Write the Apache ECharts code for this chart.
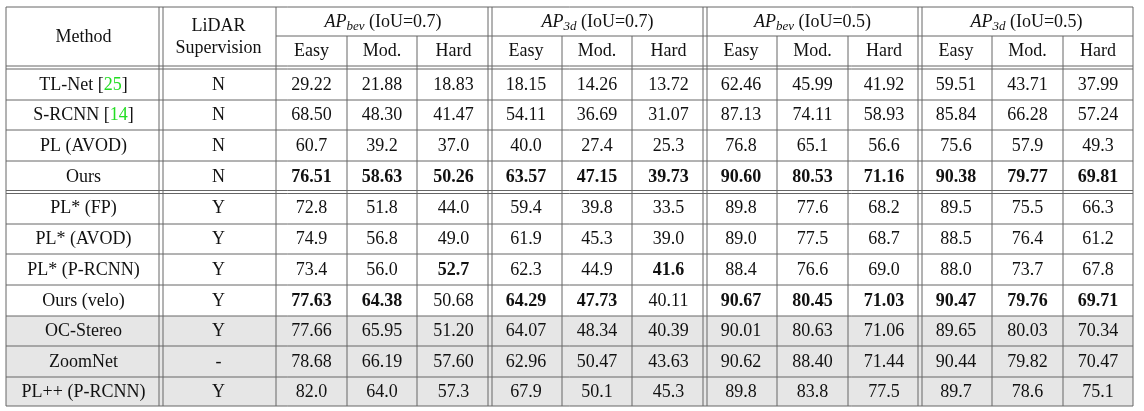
<!DOCTYPE html>
<html>
<head>
<meta charset="utf-8">
<script src="https://cdn.jsdelivr.net/npm/echarts@6/dist/echarts.min.js"></script>
<style>
  html, body { margin: 0; padding: 0; background: #fff; }
  #main { width: 1144px; height: 411px; }
</style>
</head>
<body>
<div id="main"></div>
<script>
// table content
const methods = ['TL-Net', 'S-RCNN', 'PL (AVOD)', 'Ours', 'PL* (FP)', 'PL* (AVOD)', 'PL* (P-RCNN)', 'Ours (velo)', 'OC-Stereo', 'ZoomNet', 'PL++ (P-RCNN)']
const methodRefs = ['25', '14', '', '', '', '', '', '', '', '', '']
const lidar = ['N', 'N', 'N', 'N', 'Y', 'Y', 'Y', 'Y', 'Y', '-', 'Y']
const groups = [['AP', 'bev', '(IoU=0.7)'], ['AP', '3d', '(IoU=0.7)'], ['AP', 'bev', '(IoU=0.5)'], ['AP', '3d', '(IoU=0.5)']]
const levels = ['Easy', 'Mod.', 'Hard']
const values = [
  ['29.22', '21.88', '18.83', '18.15', '14.26', '13.72', '62.46', '45.99', '41.92', '59.51', '43.71', '37.99'],
  ['68.50', '48.30', '41.47', '54.11', '36.69', '31.07', '87.13', '74.11', '58.93', '85.84', '66.28', '57.24'],
  ['60.7', '39.2', '37.0', '40.0', '27.4', '25.3', '76.8', '65.1', '56.6', '75.6', '57.9', '49.3'],
  ['76.51', '58.63', '50.26', '63.57', '47.15', '39.73', '90.60', '80.53', '71.16', '90.38', '79.77', '69.81'],
  ['72.8', '51.8', '44.0', '59.4', '39.8', '33.5', '89.8', '77.6', '68.2', '89.5', '75.5', '66.3'],
  ['74.9', '56.8', '49.0', '61.9', '45.3', '39.0', '89.0', '77.5', '68.7', '88.5', '76.4', '61.2'],
  ['73.4', '56.0', '52.7', '62.3', '44.9', '41.6', '88.4', '76.6', '69.0', '88.0', '73.7', '67.8'],
  ['77.63', '64.38', '50.68', '64.29', '47.73', '40.11', '90.67', '80.45', '71.03', '90.47', '79.76', '69.71'],
  ['77.66', '65.95', '51.20', '64.07', '48.34', '40.39', '90.01', '80.63', '71.06', '89.65', '80.03', '70.34'],
  ['78.68', '66.19', '57.60', '62.96', '50.47', '43.63', '90.62', '88.40', '71.44', '90.44', '79.82', '70.47'],
  ['82.0', '64.0', '57.3', '67.9', '50.1', '45.3', '89.8', '83.8', '77.5', '89.7', '78.6', '75.1']
]
const boldCells = [[], [], [], [0, 1, 2, 3, 4, 5, 6, 7, 8, 9, 10, 11], [], [], [2, 5], [0, 1, 3, 4, 6, 7, 8, 9, 10, 11], [], [], []]
const shadedRows = [8, 9, 10]

// layout (pixel units on the value axes)
const colEdges = [6, 161, 276, 347, 417, 490, 562, 632, 705, 777, 848, 920, 992, 1063, 1133]
const rowEdges = [69, 100, 130, 161, 192, 224, 254, 285, 316, 346, 377, 406]
const headTop = 7, headMid = 36, headBottom = 67.5
const doubleCols = [1, 5, 8, 11]
const LINE = '#666'
const FONT = '"Liberation Serif", "DejaVu Serif", serif'

const cells = []
values.forEach((row, r) => {
  cells.push([0, r, methods[r], 'method'])
  cells.push([1, r, lidar[r], 'plain'])
  row.forEach((v, c) => cells.push([c + 2, r, v, boldCells[r].includes(c) ? 'bold' : 'plain']))
})
const headers = [[0, 'Method'], [1, 'LiDAR\nSupervision']]
groups.forEach((g, i) => headers.push([i + 2, g]))
levels.forEach(() => {})

function line(api, x1, y1, x2, y2, w) {
  const a = api.coord([x1, y1]), b = api.coord([x2, y2])
  return { type: 'line', shape: { x1: a[0], y1: a[1], x2: b[0], y2: b[1] }, style: { stroke: LINE, lineWidth: w || 1 } }
}

function renderCell(params, api) {
  const item = cells[params.dataIndex]
  const [c, r, text, kind] = item
  const x0 = colEdges[c], x1 = colEdges[c + 1]
  const y0 = rowEdges[r], y1 = rowEdges[r + 1]
  const p0 = api.coord([x0, y0]), p1 = api.coord([x1, y1])
  const center = api.coord([(x0 + x1) / 2, (y0 + y1) / 2 + 0.5])
  const children = []
  if (shadedRows.includes(r)) {
    children.push({ type: 'rect', shape: { x: p0[0], y: p0[1], width: p1[0] - p0[0], height: p1[1] - p0[1] }, style: { fill: '#e6e6e6' }, z2: 0 })
  }
  let style
  if (kind === 'method' && methodRefs[r]) {
    style = { text: '{t|' + text + ' [}{g|' + methodRefs[r] + '}{t|]}', rich: { t: { font: '18px ' + FONT, fill: '#111' }, g: { font: '18px ' + FONT, fill: '#22dd22' } } }
  } else {
    style = { text: text, font: (kind === 'bold' ? 'bold ' : '') + '18px ' + FONT, fill: '#111' }
  }
  children.push({ type: 'text', x: center[0], y: center[1], style: Object.assign(style, { align: 'center', verticalAlign: 'middle' }), z2: 2 })
  return { type: 'group', children }
}

function renderGrid(params, api) {
  const ch = []
  const top = headTop, bottom = rowEdges[rowEdges.length - 1]
  const left = colEdges[0], right = colEdges[colEdges.length - 1]
  // outer border
  ch.push(line(api, left, top, right, top))
  ch.push(line(api, left, bottom, right, bottom))
  ch.push(line(api, left, top, left, bottom))
  ch.push(line(api, right, top, right, bottom))
  // horizontal rules
  ch.push(line(api, colEdges[2], headMid, right, headMid))
  ;[headBottom - 1.5, headBottom + 1.5].forEach(y => ch.push(line(api, left, y, right, y)))
  ;[rowEdges[4] - 1.5, rowEdges[4] + 1.5].forEach(y => ch.push(line(api, left, y, right, y)))
  rowEdges.forEach((y, i) => {
    if (i === 0 || i === 4 || i === rowEdges.length - 1) return
    ch.push(line(api, left, y, right, y))
  })
  // vertical rules
  for (let i = 1; i < colEdges.length - 1; i++) {
    const x = colEdges[i]
    if (doubleCols.includes(i)) {
      ch.push(line(api, x - 2, top, x - 2, bottom))
      ch.push(line(api, x + 2, top, x + 2, bottom))
    } else if (i === 2) {
      ch.push(line(api, x, top, x, bottom))
    } else {
      ch.push(line(api, x, headMid, x, bottom))
    }
  }
  // header text
  const txt = (x, y, style) => {
    const p = api.coord([x, y])
    return { type: 'text', x: p[0], y: p[1], style: Object.assign({ align: 'center', verticalAlign: 'middle', fill: '#111', font: '18px ' + FONT }, style) }
  }
  ch.push(txt((colEdges[0] + colEdges[1]) / 2, (top + headBottom) / 2, { text: 'Method' }))
  ch.push(txt((colEdges[1] + colEdges[2]) / 2, (top + headBottom) / 2, { text: 'LiDAR\nSupervision', lineHeight: 22 }))
  groups.forEach((g, gi) => {
    const x0 = colEdges[2 + gi * 3], x1 = colEdges[5 + gi * 3]
    ch.push(txt((x0 + x1) / 2, (top + headMid) / 2 + 1, {
      text: '{i|' + g[0] + '}{s|' + g[1] + '}{t| ' + g[2] + '}',
      rich: {
        i: { font: 'italic 18px ' + FONT, fill: '#111' },
        s: { font: 'italic 13px ' + FONT, fill: '#111', padding: [9, 0, 0, 0] },
        t: { font: '18px ' + FONT, fill: '#111' }
      }
    }))
    levels.forEach((lv, li) => {
      const a = colEdges[2 + gi * 3 + li], b = colEdges[3 + gi * 3 + li]
      ch.push(txt((a + b) / 2, (headMid + headBottom) / 2, { text: lv }))
    })
  })
  return { type: 'group', children: ch }
}

const chart = echarts.init(document.getElementById('main'))
chart.setOption({
  animation: false,
  grid: { left: 0, right: 0, top: 0, bottom: 0 },
  xAxis: { type: 'value', min: 0, max: 1144, show: false },
  yAxis: { type: 'value', min: 0, max: 411, inverse: true, show: false },
  series: [
    { type: 'custom', renderItem: renderCell, data: cells.map(c => [c[0], c[1]]), z: 1, silent: true },
    { type: 'custom', renderItem: renderGrid, data: [[0, 0]], z: 3, silent: true }
  ]
})
</script>
</body>
</html>
